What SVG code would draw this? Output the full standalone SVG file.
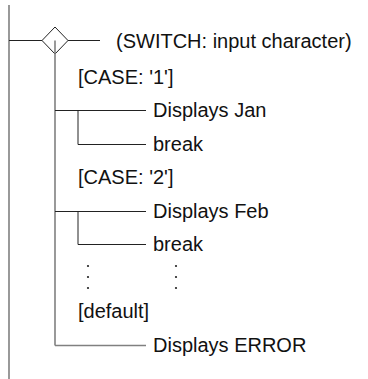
<svg xmlns="http://www.w3.org/2000/svg" width="368" height="379" viewBox="0 0 368 379">
<style>
text { font-family: "Liberation Sans", Arial, sans-serif; font-size: 20px; fill: #111; }
.trunk { stroke: #808080; stroke-width: 1.6; fill: none; }
.ln { stroke: #222; stroke-width: 1; fill: none; }
.dot { fill: #222; }
</style>
<rect width="368" height="379" fill="#fff"/>
<g id="connectors">
<line class="trunk" x1="9" y1="5" x2="9" y2="379"/>
<line class="ln" x1="9" y1="40.5" x2="100" y2="40.5"/>
<line class="trunk" x1="55" y1="40" x2="55" y2="345.5"/>
<line class="ln" x1="55" y1="110.5" x2="146" y2="110.5"/>
<polyline class="ln" points="78,110.5 78,144.5 146,144.5"/>
<line class="ln" x1="55" y1="211.5" x2="146" y2="211.5"/>
<polyline class="ln" points="78,211.5 78,244.5 146,244.5"/>
<line class="trunk" x1="55" y1="345.5" x2="146" y2="345.5"/>
</g>
<g id="switch">
<polygon points="55,27 68,40.5 55,54 42,40.5" fill="#fff" stroke="#222" stroke-width="1"/>
<line class="trunk" x1="55" y1="40.5" x2="55" y2="54"/>
<text x="116" y="47.5">(SWITCH: input character)</text>
</g>
<g id="case1">
<text x="78" y="84">[CASE: '1']</text>
</g>
<g id="jan">
<text x="153" y="117">Displays Jan</text>
</g>
<g id="break1">
<text x="153" y="151">break</text>
</g>
<g id="case2">
<text x="78" y="184">[CASE: '2']</text>
</g>
<g id="feb">
<text x="153" y="218">Displays Feb</text>
</g>
<g id="break2">
<text x="153" y="251">break</text>
</g>
<g id="ellipsis">
<circle class="dot" cx="88" cy="266" r="1.1"/>
<circle class="dot" cx="88" cy="277" r="1.1"/>
<circle class="dot" cx="88" cy="288" r="1.1"/>
<circle class="dot" cx="176" cy="266" r="1.1"/>
<circle class="dot" cx="176" cy="277" r="1.1"/>
<circle class="dot" cx="176" cy="288" r="1.1"/>
</g>
<g id="default">
<text x="78" y="318">[default]</text>
</g>
<g id="error">
<text x="153" y="352">Displays ERROR</text>
</g>
</svg>
